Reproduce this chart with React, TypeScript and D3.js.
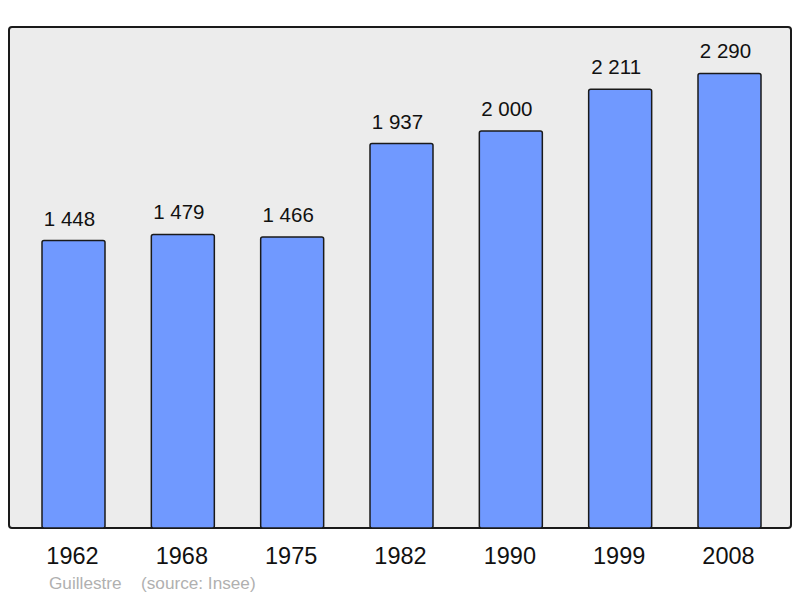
import React from 'react';
import * as d3 from 'd3';

const years: string[] = ['1962', '1968', '1975', '1982', '1990', '1999', '2008'];
const population: number[] = [1448, 1479, 1466, 1937, 2000, 2211, 2290];
const town = 'Guillestre';
const source = '(source: Insee)';

const width = 800;
const height = 598;
const frame = { l: 9, t: 27, r: 791, b: 528 };
const barWidth = 63;

const fmt = d3.formatLocale({ decimal: ',', thousands: ' ', grouping: [3], currency: ['', ''] }).format(',d');

export default function App() {
  const x = d3.scalePoint<string>().domain(years).range([73.5, 729.5]);
  const y = d3.scaleLinear().domain([0, 2524]).range([frame.b, frame.t]);

  return (
    <svg
      width={width}
      height={height}
      style={{ position: 'absolute', left: 0, top: 0, fontFamily: "'Liberation Sans', Arial, sans-serif" }}
    >
      <rect
        x={frame.l}
        y={frame.t}
        width={frame.r - frame.l}
        height={frame.b - frame.t}
        rx={3}
        fill="#ececec"
        stroke="#1a1a1a"
        strokeWidth={2}
      />
      {years.map((yr, i) => {
        const cx = x(yr) as number;
        const top = y(population[i]);
        return (
          <g key={yr}>
            <rect
              x={cx - barWidth / 2}
              y={top}
              width={barWidth}
              height={frame.b - top}
              rx={2}
              fill="#7099ff"
              stroke="#1a1a1a"
              strokeWidth={1.5}
            />
            <text x={cx - 4} y={top - 15} textAnchor="middle" fontSize={20.5} fill="#111">
              {fmt(population[i])}
            </text>
            <text x={cx - 1} y={564} textAnchor="middle" fontSize={23.5} fill="#111">
              {yr}
            </text>
          </g>
        );
      })}
      <text x={49} y={589} fontSize={17.2} fill="#b0b0b0">
        {town}
      </text>
      <text x={141} y={589} fontSize={17.2} fill="#b0b0b0">
        {source}
      </text>
    </svg>
  );
}
